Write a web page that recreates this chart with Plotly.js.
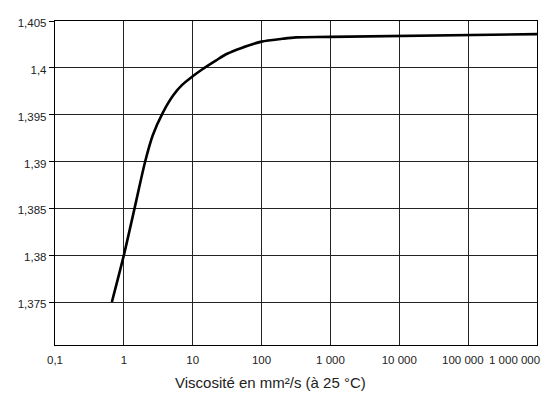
<!DOCTYPE html>
<html>
<head>
<meta charset="utf-8">
<script src="https://cdn.plot.ly/plotly-3.0.1.min.js"></script>
<style>html,body{margin:0;padding:0;background:#fff;}#chart{width:558px;height:394px;}</style>
</head>
<body>
<div id="chart"></div>
<script>
// Viscosity (mm²/s at 25 °C) vs refractive index
const viscosity = [0.67, 1, 1.43, 2.04, 2.63, 3.67, 5.25, 7.08, 10, 13.5, 21.9, 31.6, 50, 100, 200, 316, 1000, 1000000];
const refIndex  = [1.375, 1.38, 1.385, 1.39, 1.3928, 1.3952, 1.3971, 1.3982, 1.3991, 1.3998, 1.4008, 1.4015, 1.4021, 1.4028, 1.4031, 1.40325, 1.4033, 1.4036];

const xTickVals = [0.1, 1, 10, 100, 1000, 10000, 100000, 1000000];
const xTickText = ["0,1", "1", "10", "100", "1 000", "10 000", "", ""];
const edgeXLabels = ["100 000", "1 000 000"];
const yTickVals = [1.375, 1.38, 1.385, 1.39, 1.395, 1.4, 1.405];
const yTickText = ["1,375", "1,38", "1,385", "1,39", "1,395", "1,4", "1,405"];
const xTitle = "Viscosité en mm²/s (à 25 °C)";

const font = "Liberation Sans, Arial, Helvetica, sans-serif";
const tickFont = {family: font, size: 11.5, color: "#222"};

Plotly.newPlot("chart", [{
  x: viscosity,
  y: refIndex,
  type: "scatter",
  mode: "lines",
  line: {color: "#000", width: 2.6, shape: "spline", smoothing: 0.8},
  hoverinfo: "skip"
}], {
  width: 558,
  height: 394,
  margin: {l: 55, r: 21, t: 21, b: 49},
  paper_bgcolor: "#fff",
  plot_bgcolor: "#fff",
  showlegend: false,
  font: tickFont,
  xaxis: {
    type: "log",
    range: [-1, 6],
    tickvals: xTickVals,
    ticktext: xTickText,
    tickangle: 0,
    ticks: "",
    showgrid: true,
    gridcolor: "#222",
    gridwidth: 1,
    showline: true,
    linecolor: "#000",
    linewidth: 1.2,
    mirror: true,
    zeroline: false,
    tickfont: tickFont,
    ticklabelstandoff: 4
  },
  yaxis: {
    range: [1.37041, 1.405],
    tickvals: yTickVals,
    ticktext: yTickText,
    ticks: "outside",
    ticklen: 5,
    tickcolor: "#000",
    showgrid: true,
    gridcolor: "#222",
    gridwidth: 1,
    showline: true,
    linecolor: "#000",
    linewidth: 1.2,
    mirror: true,
    zeroline: false,
    tickfont: tickFont,
    ticklabelshift: 2,
    ticklabeloverflow: "allow"
  },
  annotations: [{
    text: xTitle,
    xref: "paper", yref: "paper",
    x: 0.448, y: -0.117,
    xanchor: "center", yanchor: "middle",
    showarrow: false,
    font: {family: font, size: 15, color: "#222"}
  }, {
    text: edgeXLabels[0],
    xref: "paper", yref: "paper",
    x: 0.846, y: -0.045,
    xanchor: "center", yanchor: "middle",
    showarrow: false,
    font: tickFont
  }, {
    text: edgeXLabels[1],
    xref: "paper", yref: "paper",
    x: 1, y: -0.045,
    xanchor: "right", yanchor: "middle",
    xshift: 5,
    showarrow: false,
    font: tickFont
  }]
}, {staticPlot: true});
</script>
</body>
</html>
